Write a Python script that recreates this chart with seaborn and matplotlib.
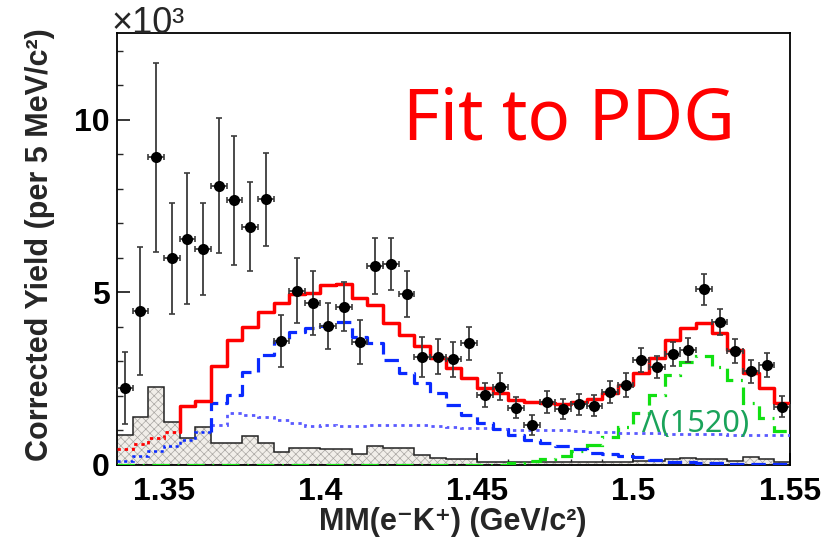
import numpy as np
import pandas as pd
import matplotlib
matplotlib.use("Agg")
import matplotlib.pyplot as plt
import seaborn as sns

# ---------------- data ----------------
bin_low = 1.335
bin_width = 0.005
n_bins = 43
mass_edges = np.round(bin_low + bin_width * np.arange(n_bins + 1), 4)
mass_centers = np.round(mass_edges[:-1] + bin_width / 2, 5)

# corrected yield (x10^3) with statistical errors
yield_data = [2.23, 4.46, 8.92, 5.99, 6.56, 6.26, 8.10, 7.67, 6.91, 7.70,
              3.59, 5.05, 4.69, 4.03, 4.59, 3.57, 5.77, 5.82, 4.96, 3.12,
              3.14, 3.06, 3.53, 2.03, 2.27, 1.66, 1.16, 1.83, 1.62, 1.76,
              1.72, 2.11, 2.32, 3.04, 2.85, 3.21, 3.33, 5.09, 4.14, 3.31,
              2.71, 2.90, 1.69]
yield_err = [1.05, 1.85, 2.74, 1.60, 1.89, 1.33, 1.95, 1.87, 1.28, 1.34,
             0.75, 0.94, 0.93, 0.67, 0.72, 0.64, 0.80, 0.76, 0.67, 0.58,
             0.51, 0.51, 0.48, 0.36, 0.40, 0.30, 0.28, 0.31, 0.30, 0.30,
             0.30, 0.32, 0.34, 0.34, 0.32, 0.35, 0.35, 0.45, 0.38, 0.35,
             0.32, 0.35, 0.30]

# total fit (red)
fit_total = [0.45, 0.62, 0.78, 0.97, 1.70, 1.86, 2.87, 3.62, 3.99, 4.44,
             4.69, 4.95, 4.98, 5.22, 5.25, 4.83, 4.64, 4.11, 3.77, 3.45,
             3.09, 2.80, 2.51, 2.22, 2.08, 1.88, 1.83, 1.81, 1.77, 1.83,
             1.90, 2.08, 2.32, 2.66, 3.09, 3.62, 3.96, 4.12, 3.82, 3.33,
             2.66, 2.22, 1.79]
# Lambda(1405) component (blue dashed)
fit_l1405 = [0.12, 0.25, 0.40, 0.55, 0.72, 0.95, 1.79, 2.03, 2.70, 3.19,
             3.60, 3.86, 3.96, 4.03, 4.14, 3.72, 3.53, 3.04, 2.68, 2.37,
             2.08, 1.74, 1.45, 1.21, 1.03, 0.87, 0.72, 0.65, 0.55, 0.46,
             0.36, 0.32, 0.27, 0.22, 0.15, 0.10, 0.08, 0.06, 0.05, 0.04,
             0.04, 0.04, 0.04]
# non-resonant component (blue dotted), starts at bin 6
fit_nonres = [np.nan] * 6 + [
             1.16, 1.50, 1.45, 1.40,
             1.30, 1.22, 1.13, 1.16, 1.13, 1.13, 1.15, 1.15, 1.16, 1.15,
             1.12, 1.10, 1.08, 1.06, 1.04, 1.02, 1.00, 1.00, 1.00, 0.98,
             0.96, 0.95, 0.94, 0.93, 0.92, 0.91, 0.90, 0.90, 0.89, 0.88,
             0.87, 0.87, 0.87]
# Lambda(1520) component (green dash-dot)
fit_l1520 = [0.0] * 25 + [
             0.05, 0.11, 0.16, 0.25, 0.42,
             0.58, 0.81, 1.11, 1.51, 2.02, 2.61, 2.98, 3.16, 2.85, 2.45,
             1.80, 1.35, 0.98]
# sideband background (grey hatched)
sideband_bg = [0.87, 1.40, 2.27, 1.26, 0.77, 1.11, 0.65, 0.63, 0.84, 0.63,
               0.38, 0.50, 0.50, 0.47, 0.45, 0.32, 0.55, 0.48, 0.48, 0.29,
               0.19, 0.18, 0.18, 0.08, 0.08, 0.10, 0.10, 0.08, 0.08, 0.08,
               0.08, 0.10, 0.10, 0.12, 0.12, 0.18, 0.20, 0.16, 0.16, 0.13,
               0.24, 0.16, 0.10]

x_ticks = [1.35, 1.40, 1.45, 1.50, 1.55]
x_tick_labels = ["1.35", "1.4", "1.45", "1.5", "1.55"]
y_ticks = [0, 5, 10]
y_tick_labels = ["0", "5", "10"]

bg_df = pd.DataFrame({"mass": mass_centers, "bg": sideband_bg})
pts_df = pd.DataFrame({"mass": mass_centers, "y": yield_data})

# ---------------- style ----------------
sns.set_style("ticks")
plt.rcParams['font.family'] = ['Liberation Sans', 'DejaVu Sans']
plt.rcParams['hatch.linewidth'] = 0.5

fig = plt.figure(figsize=(8.21, 5.39), dpi=100)
ax = fig.add_axes([117 / 821, 1 - 465 / 539, (790 - 117) / 821, (465 - 33) / 539])

# grey hatched background histogram
sns.histplot(data=bg_df, x="mass", weights="bg", bins=list(mass_edges), element="step",
             fill=True, ax=ax, facecolor="#f1eee9", edgecolor="#a9a6a2", hatch="xxxx",
             linewidth=0, alpha=1, zorder=1)
ax.stairs(sideband_bg, mass_edges, color="#222222", lw=1.1, baseline=None, zorder=2)


def draw_split(values, split, color, ls_left, ls_right, lw, z):
    v = np.asarray(values, dtype=float)
    ax.stairs(v[:split], mass_edges[:split + 1], color=color, lw=lw * 0.8,
              linestyle=ls_left, baseline=None, zorder=z)
    xs = np.concatenate([[mass_edges[split]], mass_edges[split:]])
    ys = np.concatenate([[v[split - 1]], v[split:], [v[-1]]])
    ax.plot(xs, ys, drawstyle="steps-post", color=color, lw=lw, linestyle=ls_right,
            zorder=z)


# green Lambda(1520)
ax.stairs(fit_l1520, mass_edges, color="#11e011", lw=2.3, baseline=None,
          linestyle=(0, (5.5, 2.4, 0.6, 2.4)), zorder=3)
# blue dotted non-resonant
nr = np.asarray(fit_nonres, dtype=float)
ok = np.isfinite(nr)
first = int(np.argmax(ok))
ax.stairs(nr[first:], mass_edges[first:], color="#5a5aff", lw=2.0, baseline=None,
          linestyle=(0, (1.2, 1.6)), zorder=4)
# blue dashed Lambda(1405)
draw_split(fit_l1405, 6, "#0a2aff", (0, (1.2, 1.4)), (0, (4.5, 2.2)), 2.3, 5)
# red total
draw_split(fit_total, 4, "#ff0000", (0, (1.2, 1.4)), "-", 2.5, 6)

# data points
ax.errorbar(mass_centers, yield_data, yerr=yield_err, xerr=bin_width / 2, fmt="none",
            ecolor="#3c3c3c", elinewidth=1.3, capsize=2.2, capthick=1.2, zorder=7)
sns.scatterplot(data=pts_df, x="mass", y="y", color="black", s=64, edgecolor="black",
                linewidth=0, ax=ax, zorder=8, legend=False)

# axes
ax.set_xlim(bin_low, mass_edges[-1])
ax.set_ylim(0, 12.52)
ax.set_xticks(x_ticks)
ax.set_xticklabels(x_tick_labels)
ax.set_yticks(y_ticks)
ax.set_yticklabels(y_tick_labels)
ax.set_xticks(np.round(np.arange(1.34, 1.551, 0.01), 3), minor=True)
ax.set_yticks(np.arange(0, 12.6, 1.0), minor=True)
ax.tick_params(axis="both", which="major", direction="in", length=9, width=1.1,
               labelsize=23, colors="black")
ax.tick_params(axis="both", which="minor", direction="in", length=4.5, width=1.0)
ax.tick_params(axis="x", which="major", pad=9)
ax.tick_params(axis="y", which="major", pad=5)
for lab in ax.get_xticklabels() + ax.get_yticklabels():
    lab.set_fontweight("bold")
for s in ax.spines.values():
    s.set_visible(True)
    s.set_color("black")
    s.set_linewidth(1.3)

ax.set_xlabel("")
ax.set_ylabel("")
fig.text(453 / 821, 1 - 522 / 539, "MM(e\u207bK\u207a) (GeV/c\u00b2)", ha="center", va="center",
         fontsize=22, fontweight="bold")
fig.text(40 / 821, 1 - 245 / 539, "Corrected Yield (per 5 MeV/c\u00b2)", ha="center",
         va="center", rotation=90, fontsize=22, fontweight="bold")
fig.text(111 / 821, 1 - 33 / 539, "\u00d710\u00b3", ha="left", va="baseline", fontsize=26)

fig.text(403 / 821, 1 - 140 / 539, "Fit to PDG", ha="left", va="baseline",
         fontsize=51, color="#ff0000", family="Noto Sans")
ax.text(1.5027, 1.2, "\u039b(1520)", ha="left", va="center", fontsize=22,
        color="#1aa35a", family=["Noto Sans", "DejaVu Sans"], zorder=9)

fig.savefig("out.png", dpi=100)
